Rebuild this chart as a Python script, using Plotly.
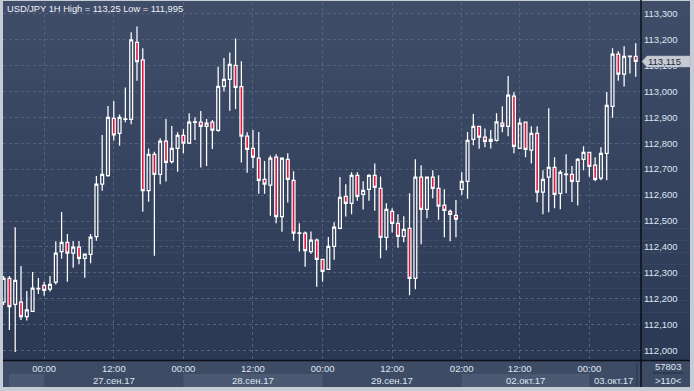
import plotly.graph_objects as go

# ---------------- data (USD/JPY, 1H candles) ----------------
open_ = [112.187, 112.279, 112.179, 112.187, 112.131, 112.152, 112.238, 112.252, 112.237, 112.264,
         112.382, 112.418, 112.376, 112.399, 112.356, 112.371, 112.440, 112.642, 112.675, 112.896,
         112.838, 112.892, 112.892, 113.189, 113.121, 112.617, 112.757, 112.680, 112.808, 112.729,
         112.780, 112.830, 112.800, 112.880, 112.881, 112.865, 112.881, 112.849, 113.019, 113.046,
         113.100, 113.018, 112.827, 112.780, 112.742, 112.661, 112.638, 112.746, 112.517, 112.738,
         112.657, 112.452, 112.453, 112.382, 112.426, 112.352, 112.314, 112.402, 112.472, 112.595,
         112.568, 112.676, 112.603, 112.622, 112.676, 112.626, 112.437, 112.537, 112.491, 112.441,
         112.472, 112.279, 112.669, 112.545, 112.669, 112.626, 112.561, 112.537, 112.522, 112.622,
         112.653, 112.815, 112.865, 112.823, 112.807, 112.811, 112.877, 112.865, 112.981, 112.780,
         112.881, 112.773, 112.838, 112.611, 112.669, 112.707, 112.607, 112.679, 112.680, 112.653,
         112.738, 112.765, 112.715, 112.665, 112.761, 112.942, 113.143, 113.066, 113.134, 113.135]
high = [112.288, 112.288, 112.476, 112.327, 112.230, 112.303, 112.280, 112.266, 112.288, 112.422,
        112.535, 112.450, 112.423, 112.423, 112.373, 112.450, 112.674, 112.832, 112.943, 112.963,
        112.911, 113.015, 113.228, 113.250, 113.166, 112.780, 112.767, 112.819, 112.893, 112.866,
        112.842, 112.854, 112.915, 112.900, 112.924, 112.893, 112.889, 113.095, 113.128, 113.150,
        113.204, 113.116, 112.842, 112.851, 112.843, 112.731, 112.753, 112.757, 112.745, 112.761,
        112.692, 112.491, 112.460, 112.460, 112.433, 112.353, 112.438, 112.495, 112.670, 112.642,
        112.688, 112.688, 112.653, 112.680, 112.722, 112.672, 112.568, 112.549, 112.526, 112.518,
        112.607, 112.738, 112.715, 112.672, 112.696, 112.676, 112.622, 112.544, 112.581, 112.688,
        112.843, 112.913, 112.866, 112.857, 112.851, 112.915, 112.942, 113.059, 112.996, 112.896,
        112.884, 112.865, 112.865, 112.696, 112.935, 112.746, 112.696, 112.757, 112.712, 112.743,
        112.788, 112.766, 112.746, 112.784, 112.997, 113.166, 113.154, 113.174, 113.136, 113.185]
low = [112.176, 112.080, 111.995, 112.118, 112.116, 112.150, 112.219, 112.212, 112.228, 112.255,
       112.355, 112.266, 112.320, 112.333, 112.281, 112.337, 112.424, 112.617, 112.671, 112.810,
       112.790, 112.881, 112.873, 113.041, 112.536, 112.574, 112.366, 112.642, 112.652, 112.722,
       112.690, 112.761, 112.797, 112.812, 112.706, 112.712, 112.778, 112.844, 112.999, 112.925,
       112.932, 112.726, 112.686, 112.703, 112.605, 112.605, 112.520, 112.491, 112.459, 112.571,
       112.424, 112.382, 112.324, 112.374, 112.247, 112.266, 112.312, 112.351, 112.468, 112.517,
       112.526, 112.578, 112.544, 112.578, 112.540, 112.356, 112.387, 112.456, 112.397, 112.418,
       112.214, 112.237, 112.410, 112.511, 112.588, 112.505, 112.437, 112.422, 112.437, 112.600,
       112.586, 112.792, 112.779, 112.784, 112.780, 112.807, 112.842, 112.827, 112.761, 112.778,
       112.746, 112.722, 112.572, 112.526, 112.534, 112.549, 112.545, 112.607, 112.573, 112.560,
       112.696, 112.671, 112.653, 112.657, 112.657, 112.898, 113.041, 113.019, 113.069, 113.056]
close = [112.279, 112.170, 112.271, 112.131, 112.157, 112.241, 112.240, 112.233, 112.256, 112.376,
         112.418, 112.376, 112.399, 112.356, 112.372, 112.438, 112.642, 112.680, 112.900, 112.832,
         112.900, 112.894, 113.198, 113.114, 112.617, 112.757, 112.680, 112.808, 112.726, 112.780,
         112.830, 112.800, 112.881, 112.882, 112.865, 112.877, 112.850, 113.019, 113.046, 113.104,
         113.015, 112.827, 112.776, 112.746, 112.657, 112.642, 112.742, 112.517, 112.742, 112.661,
         112.453, 112.454, 112.386, 112.426, 112.352, 112.306, 112.402, 112.476, 112.591, 112.568,
         112.676, 112.595, 112.618, 112.676, 112.630, 112.437, 112.545, 112.491, 112.441, 112.468,
         112.279, 112.669, 112.545, 112.669, 112.626, 112.557, 112.541, 112.526, 112.507, 112.653,
         112.811, 112.865, 112.823, 112.807, 112.815, 112.882, 112.865, 112.985, 112.788, 112.877,
         112.776, 112.838, 112.611, 112.661, 112.707, 112.603, 112.688, 112.681, 112.653, 112.738,
         112.765, 112.711, 112.661, 112.761, 112.946, 113.143, 113.066, 113.135, 113.136, 113.115]
bar_index = list(range(len(open_)))

time_labels = ["00:00", "12:00", "00:00", "12:00", "00:00", "12:00", "02:00", "12:00", "00:00"]
time_ticks = [7, 19, 31, 43, 55, 67, 79, 89, 101]
day_labels = ["27.сен.17", "28.сен.17", "29.сен.17", "02.окт.17", "03.окт.17"]
day_starts = [7, 31, 55, 79, 101]
price_ticks = [112.0, 112.1, 112.2, 112.3, 112.4, 112.5, 112.6, 112.7,
               112.8, 112.9, 113.0, 113.1, 113.2, 113.3]
symbol = "USD/JPY 1H"
counter_text = "57803"

# ---------------- geometry / style ----------------
W, H = 694, 391
L, R, T, B = 3, 53, 2, 31
PW, PH = W - L - R, H - T - B
XR = [-0.103, 109.91]
YR = [111.9642, 113.3443]

def pxx(px):
    return (px - L) / PW

def pxy(py):
    return (H - B - py) / PH

def ix(i):
    return (i - XR[0]) / (XR[1] - XR[0])

def fmt(v):
    s = ("%.3f" % v).rstrip("0").rstrip(".")
    return s.replace(".", ",")

FONT = "Liberation Sans, Arial, sans-serif"
TXT = "#dfe6f2"

fig = go.Figure()
fig.add_trace(go.Candlestick(
    x=bar_index, open=open_, high=high, low=low, close=close,
    increasing=dict(line=dict(color="#ffffff", width=1.25), fillcolor="rgba(0,0,0,0)"),
    decreasing=dict(line=dict(color="#ffffff", width=1.25), fillcolor="#e0163f"),
    whiskerwidth=0, hoverinfo="skip", showlegend=False,
))

shapes = []
# gradient background (plot + right strip)
N = 30
top_c = (64, 77, 105)
bot_c = (44, 57, 85)
for k in range(N):
    t = k / (N - 1)
    c = tuple(round(top_c[j] + (bot_c[j] - top_c[j]) * t) for j in range(3))
    y0 = 1 + k * 359 / N
    y1 = 1 + (k + 1) * 359 / N + 0.5
    shapes.append(dict(type="rect", xref="paper", yref="paper", layer="below",
                       x0=pxx(3), x1=pxx(690), y0=pxy(y1), y1=pxy(y0),
                       fillcolor="rgb(%d,%d,%d)" % c, line=dict(width=0)))
# bottom strip
shapes.append(dict(type="rect", xref="paper", yref="paper", layer="below",
                   x0=pxx(3), x1=pxx(690), y0=pxy(387), y1=pxy(360),
                   fillcolor="#3e4b65", line=dict(width=0)))
# day bands (lower row)
bounds = [0.93] + day_starts + [109.2]
for k in range(len(bounds) - 1):
    if k % 2 == 0:
        shapes.append(dict(type="rect", xref="paper", yref="paper", layer="below",
                           x0=ix(bounds[k]), x1=ix(bounds[k + 1]), y0=pxy(387), y1=pxy(374),
                           fillcolor="#4c5973", line=dict(width=0)))
# separators
shapes.append(dict(type="line", xref="paper", yref="paper", x0=pxx(641), x1=pxx(641),
                   y0=pxy(387), y1=pxy(0), line=dict(color="#0b0f18", width=1.5)))
shapes.append(dict(type="line", xref="paper", yref="paper", x0=pxx(3), x1=pxx(690),
                   y0=pxy(360.5), y1=pxy(360.5), line=dict(color="#0b0f18", width=1.5)))
shapes.append(dict(type="line", xref="paper", yref="paper", x0=pxx(637), x1=pxx(637),
                   y0=pxy(386), y1=pxy(362), line=dict(color="#2a3550", width=1)))
shapes.append(dict(type="line", xref="paper", yref="paper", x0=pxx(653), x1=pxx(683),
                   y0=pxy(373), y1=pxy(373), line=dict(color="#1e2840", width=1)))
# last price marker
last = close[-1]
py_last = T + (YR[1] - last) / (YR[1] - YR[0]) * PH
path = "M %f,%f L %f,%f L %f,%f L %f,%f L %f,%f Z" % (
    pxx(642), pxy(py_last), pxx(647), pxy(py_last - 5.5), pxx(690), pxy(py_last - 5.5),
    pxx(690), pxy(py_last + 5.5), pxx(647), pxy(py_last + 5.5))
shapes.append(dict(type="path", xref="paper", yref="paper", path=path,
                   fillcolor="#c6cbd3", line=dict(color="#aab1bc", width=0.5)))

annotations = []
annotations.append(dict(xref="paper", yref="paper", x=pxx(5), y=pxy(9.5), xanchor="left",
                        yanchor="middle", showarrow=False,
                        text="%s High = %s Low = %s" % (symbol, fmt(max(high)), fmt(min(low))),
                        font=dict(family=FONT, size=9.3, color="#eef2f8")))
for k, lab in enumerate(day_labels):
    centre = (bounds[k + 1] + bounds[k + 2]) / 2
    annotations.append(dict(xref="x", yref="paper", x=centre, y=pxy(380), xanchor="center",
                            yanchor="middle", showarrow=False, text=lab,
                            font=dict(family=FONT, size=9.5, color=TXT)))
annotations.append(dict(xref="paper", yref="paper", x=pxx(668), y=pxy(366.5), xanchor="center",
                        yanchor="middle", showarrow=False, text=counter_text,
                        font=dict(family=FONT, size=9.5, color=TXT)))
annotations.append(dict(xref="paper", yref="paper", x=pxx(668), y=pxy(380), xanchor="center",
                        yanchor="middle", showarrow=False, text="&gt;%d&lt;" % len(open_),
                        font=dict(family=FONT, size=9.5, color=TXT)))
annotations.append(dict(xref="paper", yref="paper", x=pxx(646), y=pxy(py_last), xanchor="left",
                        yanchor="middle", showarrow=False, text=("%.3f" % last).replace(".", ","),
                        font=dict(family=FONT, size=9.5, color="#1a2542")))

grid = dict(showgrid=True, gridcolor="#56627d", gridwidth=1, griddash="3px,3px",
            zeroline=False, showline=False, ticks="")
fig.update_layout(
    width=W, height=H, autosize=False,
    margin=dict(l=L, r=R, t=T, b=B, pad=0),
    paper_bgcolor="#c6ccd5", plot_bgcolor="rgba(0,0,0,0)",
    separators=", ",
    showlegend=False,
    shapes=shapes, annotations=annotations,
    xaxis=dict(range=XR, tickmode="array", tickvals=time_ticks, ticktext=time_labels,
               rangeslider=dict(visible=False), fixedrange=True,
               tickfont=dict(family=FONT, size=9.5, color=TXT), ticklabelstandoff=1, **grid),
    yaxis=dict(range=YR, side="right", tickmode="array", tickvals=price_ticks,
               tickformat=".3f", fixedrange=True, ticklabelstandoff=2,
               tickfont=dict(family=FONT, size=9.5, color=TXT), **grid),
)
fig.write_html("out.html", config={"displayModeBar": False},
               post_script="document.body.style.margin='0';document.body.style.overflow='hidden';")
